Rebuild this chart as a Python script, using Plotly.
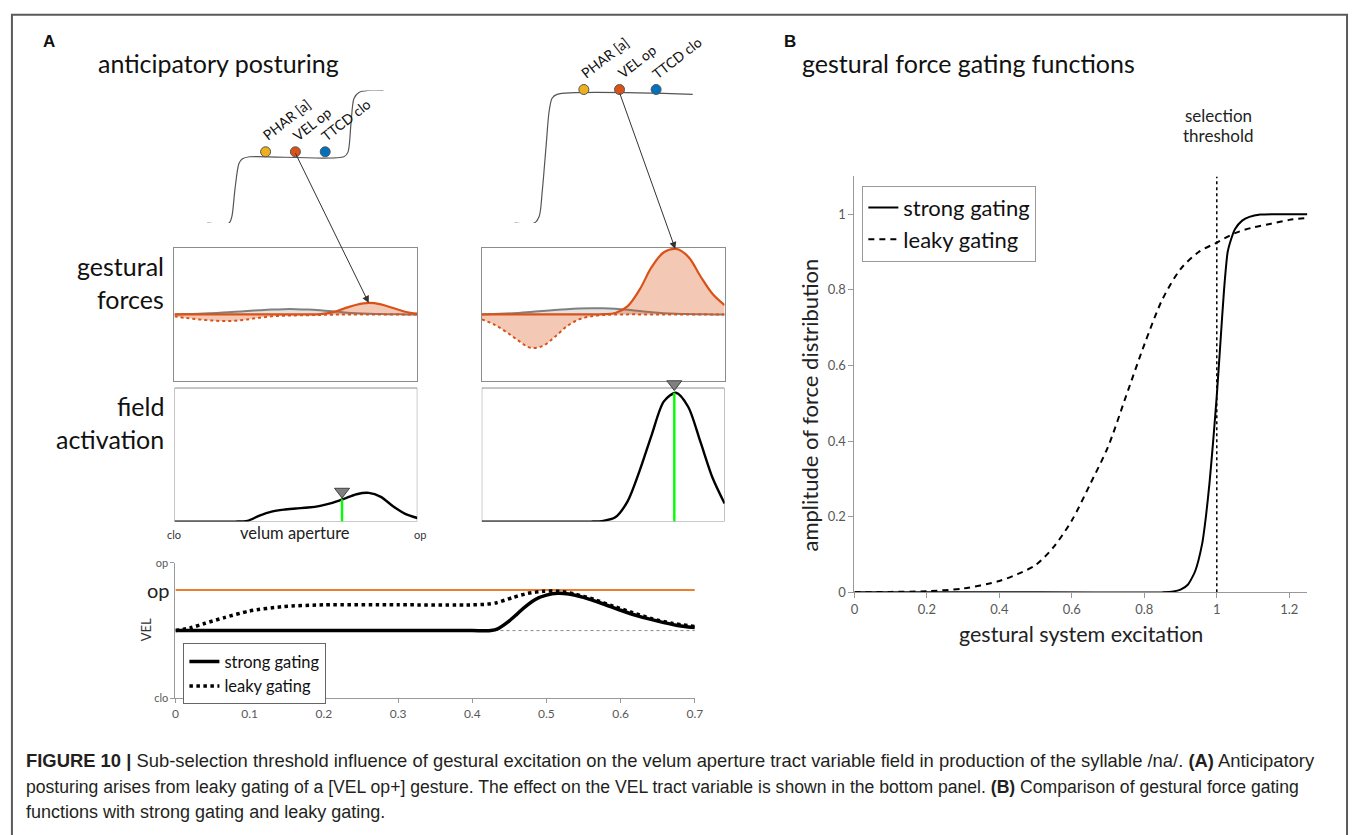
import plotly.graph_objects as go

W, H = 1358, 835
def fx(x): return x / W
def fy(y): return 1 - y / H

CAL = "Lato"
CAP = "Liberation Sans"

# ---------------- data ----------------
gesture_names = ["PHAR [a]", "VEL op", "TTCD clo"]
gesture_colors = ["#EDB120", "#D95319", "#0072BD"]

# schematic excitation steps (left: anticipatory, right: selected)
schem_left_t = [0, 0.124, 0.14, 0.157, 0.18, 0.2, 0.24, 0.775, 0.798, 0.815, 0.832, 0.86, 0.91, 1.0]
schem_left_level = [0, 0, 0.1, 0.5, 0.9, 0.97, 1, 1, 1.07, 1.5, 1.88, 1.97, 2, 2]
schem_left_dot_t = [0.331, 0.5, 0.669]
schem_left_dot_level = [1.075, 1.075, 1.075]

schem_right_t = [0, 0.111, 0.139, 0.156, 0.178, 0.194, 0.211, 0.239, 1.0]
schem_right_level = [0, 0, 0.107, 0.5, 1.22, 1.73, 1.94, 2, 2]
schem_right_dot_t = [0.389, 0.589, 0.794]
schem_right_dot_level = [2.076, 2.076, 2.076]

# field position (clo -> op)
field_x = [0, 0.05, 0.1, 0.15, 0.2, 0.25, 0.3, 0.35, 0.4, 0.45, 0.5,
           0.55, 0.6, 0.65, 0.7, 0.75, 0.8, 0.85, 0.9, 0.95, 1.0]

# gestural forces, left (anticipatory)
gf_left_gray = [0, 0.005, 0.01, 0.018, 0.027, 0.038, 0.05, 0.062, 0.072, 0.078, 0.078,
                0.072, 0.06, 0.045, 0.03, 0.018, 0.01, 0.005, 0.002, 0.0, 0.0]
gf_left_orange = [0, 0, 0, 0, 0, 0, 0, 0, 0, 0, 0,
                  0, 0.003, 0.03, 0.09, 0.145, 0.172, 0.15, 0.095, 0.04, 0.012]
gf_left_dotted = [-0.03, -0.055, -0.075, -0.09, -0.1, -0.095, -0.075, -0.05, -0.03, -0.02, -0.015,
                  -0.012, -0.008, -0.004, -0.001, 0, 0, 0, 0, 0, 0]

# gestural forces, right (selected)
gf_right_gray = [0, 0.005, 0.012, 0.022, 0.035, 0.05, 0.065, 0.078, 0.088, 0.093, 0.092,
                 0.085, 0.07, 0.05, 0.032, 0.018, 0.009, 0.004, 0.002, 0.0, 0.0]
gf_right_orange = [0, 0, 0, 0, 0, 0, 0, 0, 0, 0, 0.003,
                   0.02, 0.12, 0.37, 0.71, 0.93, 0.98, 0.865, 0.575, 0.31, 0.14]
gf_right_dotted = [-0.074, -0.15, -0.26, -0.39, -0.5, -0.475, -0.34, -0.18, -0.075, -0.03, -0.01,
                   -0.003, 0, 0, 0, 0, 0, 0, 0, 0, 0]

# field activation
fa_left = [0, 0, 0, 0, 0, 0, 0.005, 0.045, 0.075, 0.09, 0.098,
           0.105, 0.118, 0.14, 0.172, 0.205, 0.215, 0.185, 0.115, 0.058, 0.027]
fa_right = [0, 0, 0, 0, 0, 0, 0, 0, 0, 0, 0.005,
            0.032, 0.15, 0.38, 0.65, 0.9, 0.965, 0.86, 0.6, 0.33, 0.135]
fa_left_sel = (0.69, 0.167)     # selected position, activation there
fa_right_sel = (0.793, 0.965)
fa_left_pointer = 0.225          # pointer (triangle) height above curve
fa_right_pointer = 1.03

# VEL tract variable over time
vel_strong_t = [0, 0.1, 0.2, 0.3, 0.4, 0.425, 0.435, 0.45, 0.46, 0.47, 0.485, 0.5, 0.515,
                0.53, 0.55, 0.575, 0.6, 0.625, 0.65, 0.675, 0.7]
vel_strong = [0.5, 0.5, 0.5, 0.5, 0.5, 0.5, 0.515, 0.572, 0.62, 0.67, 0.73, 0.762, 0.775,
              0.77, 0.745, 0.70, 0.65, 0.605, 0.57, 0.54, 0.522]
vel_leaky_t = [0, 0.02, 0.04, 0.066, 0.1, 0.145, 0.2, 0.3, 0.4, 0.42, 0.433, 0.454, 0.475,
               0.496, 0.517, 0.538, 0.564, 0.59, 0.616, 0.642, 0.669, 0.7]
vel_leaky = [0.5, 0.52, 0.554, 0.596, 0.645, 0.677, 0.69, 0.69, 0.69, 0.695, 0.706, 0.743, 0.775,
             0.79, 0.79, 0.77, 0.73, 0.68, 0.633, 0.588, 0.554, 0.53]
vel_target = 0.8
vel_neutral = 0.5
vel_neutral_t = [0.43, 0.7]
vel_time_ticks = [0, 0.1, 0.2, 0.3, 0.4, 0.5, 0.6, 0.7]

# gating functions (panel B)
gate_leaky_x = [0, 0.1, 0.2, 0.3, 0.4, 0.45, 0.5, 0.55, 0.6, 0.65, 0.7, 0.75, 0.8, 0.85,
                0.9, 0.95, 1.0, 1.05, 1.1, 1.15, 1.2, 1.25]
gate_leaky = [0, 0.001, 0.003, 0.01, 0.03, 0.048, 0.072, 0.12, 0.19, 0.285, 0.385, 0.52, 0.655, 0.775,
              0.855, 0.9, 0.925, 0.95, 0.965, 0.975, 0.985, 0.99]
gate_strong_x = [0, 0.5, 0.85, 0.88, 0.9, 0.92, 0.94, 0.96, 0.97, 0.98, 0.99, 1.0, 1.01, 1.02,
                 1.03, 1.04, 1.05, 1.07, 1.09, 1.12, 1.25]
gate_strong = [0, 0, 0, 0.002, 0.007, 0.02, 0.055, 0.13, 0.2, 0.29, 0.4, 0.52, 0.66, 0.8,
               0.9, 0.935, 0.96, 0.983, 0.993, 0.999, 1.0]
threshold = 1.0
gate_xticks = [0, 0.2, 0.4, 0.6, 0.8, 1.0, 1.2]
gate_yticks = [0, 0.2, 0.4, 0.6, 0.8, 1.0]

ORANGE = "#D95319"
ORANGE_FILL = "rgba(217,83,25,0.32)"
GRAY_FILL = "rgba(190,190,190,0.45)"

fig = go.Figure()

# ---- schematics ----
fig.add_trace(go.Scatter(x=schem_left_t, y=schem_left_level, mode="lines",
                         line=dict(color="#555", width=1.2, shape="spline", smoothing=0.8),
                         xaxis="x", yaxis="y", showlegend=False))
fig.add_trace(go.Scatter(x=schem_left_dot_t, y=schem_left_dot_level, mode="markers",
                         marker=dict(size=10, color=gesture_colors, line=dict(color="#555", width=1)),
                         xaxis="x", yaxis="y", showlegend=False, cliponaxis=False))
fig.add_trace(go.Scatter(x=schem_right_t, y=schem_right_level, mode="lines",
                         line=dict(color="#555", width=1.2, shape="spline", smoothing=0.8),
                         xaxis="x2", yaxis="y2", showlegend=False))
fig.add_trace(go.Scatter(x=schem_right_dot_t, y=schem_right_dot_level, mode="markers",
                         marker=dict(size=10, color=gesture_colors, line=dict(color="#555", width=1)),
                         xaxis="x2", yaxis="y2", showlegend=False, cliponaxis=False))

# ---- gestural forces ----
for ax, gray, orange, dotted in [("3", gf_left_gray, gf_left_orange, gf_left_dotted),
                                 ("4", gf_right_gray, gf_right_orange, gf_right_dotted)]:
    fig.add_trace(go.Scatter(x=field_x, y=gray, mode="lines", fill="tozeroy", fillcolor=GRAY_FILL,
                             line=dict(color="#808080", width=2, shape="spline"),
                             xaxis="x" + ax, yaxis="y" + ax, showlegend=False))
    fig.add_trace(go.Scatter(x=field_x, y=dotted, mode="lines", fill="tozeroy", fillcolor=ORANGE_FILL,
                             line=dict(color=ORANGE, width=2, dash="dot", shape="spline"),
                             xaxis="x" + ax, yaxis="y" + ax, showlegend=False))
    fig.add_trace(go.Scatter(x=field_x, y=orange, mode="lines", fill="tozeroy", fillcolor=ORANGE_FILL,
                             line=dict(color=ORANGE, width=2.2, shape="spline"),
                             xaxis="x" + ax, yaxis="y" + ax, showlegend=False))

# ---- field activation ----
for ax, act, sel, ptr in [("5", fa_left, fa_left_sel, fa_left_pointer),
                          ("6", fa_right, fa_right_sel, fa_right_pointer)]:
    fig.add_trace(go.Scatter(x=field_x, y=act, mode="lines",
                             line=dict(color="black", width=2.4, shape="spline", smoothing=0.8),
                             xaxis="x" + ax, yaxis="y" + ax, showlegend=False))
    fig.add_trace(go.Scatter(x=[sel[0], sel[0]], y=[0, sel[1]], mode="lines",
                             line=dict(color="#00FF00", width=2.4),
                             xaxis="x" + ax, yaxis="y" + ax, showlegend=False))
    fig.add_trace(go.Scatter(x=[sel[0]], y=[ptr], mode="markers",
                             marker=dict(symbol="triangle-down", size=13, color="#808080",
                                         line=dict(color="#404040", width=1)),
                             xaxis="x" + ax, yaxis="y" + ax, showlegend=False, cliponaxis=False))

# ---- VEL panel ----
fig.add_trace(go.Scatter(x=[0, 0.7], y=[vel_target, vel_target], mode="lines",
                         line=dict(color="#ED7D31", width=2), xaxis="x7", yaxis="y7", showlegend=False))
fig.add_trace(go.Scatter(x=vel_neutral_t, y=[vel_neutral, vel_neutral], mode="lines",
                         line=dict(color="#888", width=1, dash="dot"), xaxis="x7", yaxis="y7",
                         showlegend=False))
fig.add_trace(go.Scatter(x=vel_leaky_t, y=vel_leaky, mode="lines", name="leaky gating",
                         line=dict(color="black", width=3.5, dash="dot", shape="spline", smoothing=0.7),
                         xaxis="x7", yaxis="y7", legend="legend2", legendrank=2))
fig.add_trace(go.Scatter(x=vel_strong_t, y=vel_strong, mode="lines", name="strong gating",
                         line=dict(color="black", width=3.5, shape="spline", smoothing=0.7),
                         xaxis="x7", yaxis="y7", legend="legend2", legendrank=1))

# ---- panel B ----
fig.add_trace(go.Scatter(x=[threshold, threshold], y=[0, 1.1], mode="lines",
                         line=dict(color="black", width=1.5, dash="dot"),
                         xaxis="x8", yaxis="y8", showlegend=False))
fig.add_trace(go.Scatter(x=gate_strong_x, y=gate_strong, mode="lines", name="strong gating",
                         line=dict(color="black", width=2, shape="spline", smoothing=0.6),
                         xaxis="x8", yaxis="y8", legend="legend", legendrank=1))
fig.add_trace(go.Scatter(x=gate_leaky_x, y=gate_leaky, mode="lines", name="leaky gating",
                         line=dict(color="black", width=2, dash="6px,5px", shape="spline", smoothing=0.8),
                         xaxis="x8", yaxis="y8", legend="legend", legendrank=2))

# ---------------- axes ----------------
def hidden(dom, rng, anchor):
    return dict(domain=dom, range=rng, visible=False, fixedrange=True, anchor=anchor)

def boxed(dom, rng, anchor):
    return dict(domain=dom, range=rng, anchor=anchor, showline=True, mirror=True,
                linecolor="#8c8c8c", linewidth=1, showticklabels=False, ticks="",
                showgrid=False, zeroline=False)

def bare(dom, rng, anchor):
    return dict(domain=dom, range=rng, anchor=anchor, showline=False, showticklabels=False,
                ticks="", showgrid=False, zeroline=False)

FA_TOP = 1.13  # extra head-room for the pointer triangle
lay = {}
lay["xaxis"] = hidden([fx(205), fx(383)], [0, 1], "y")
lay["yaxis"] = hidden([fy(220), fy(85)], [0, 2], "x")
lay["xaxis2"] = hidden([fx(515), fx(695)], [0, 1], "y2")
lay["yaxis2"] = hidden([fy(220), fy(220 - 2.3 * 65.5)], [0, 2.3], "x2")

lay["xaxis3"] = boxed([fx(172), fx(417)], [0, 1], "y3")
lay["yaxis3"] = boxed([fy(381), fy(245)], [-1, 1], "x3")
lay["xaxis4"] = boxed([fx(482), fx(727)], [0, 1], "y4")
lay["yaxis4"] = boxed([fy(381), fy(245)], [-1, 1], "x4")
lay["xaxis5"] = bare([fx(172), fx(417)], [0, 1], "y5")
lay["yaxis5"] = bare([fy(524), fy(524 - FA_TOP * 136)], [0, FA_TOP], "x5")
lay["xaxis6"] = bare([fx(482), fx(727)], [0, 1], "y6")
lay["yaxis6"] = bare([fy(524), fy(524 - FA_TOP * 136)], [0, FA_TOP], "x6")

tickfont_small = dict(family=CAL, size=11, color="#595959")
lay["xaxis7"] = dict(domain=[fx(173), fx(697)], range=[0, 0.7], anchor="y7",
                     tickvals=vel_time_ticks, ticktext=[("%g" % v) for v in vel_time_ticks],
                     tickfont=dict(family=CAL, size=12, color="#595959"),
                     showline=True, linecolor="#999", ticks="outside", ticklen=4, tickcolor="#999",
                     showgrid=False, zeroline=False)
lay["yaxis7"] = dict(domain=[fy(704), fy(566)], range=[0, 1], anchor="x7",
                     tickvals=[0, 1], ticktext=["clo", "op"], tickfont=tickfont_small,
                     showline=True, linecolor="#999", ticks="outside", ticklen=4, tickcolor="#999",
                     showgrid=False, zeroline=False)

lay["xaxis8"] = dict(domain=[fx(858), fx(1315)], range=[0, 1.25], anchor="y8",
                     tickvals=gate_xticks, ticktext=[("%g" % v) for v in gate_xticks],
                     tickfont=dict(family=CAL, size=13, color="#595959"),
                     showline=True, linecolor="#999", ticks="outside", ticklen=5, tickcolor="#999",
                     showgrid=False, zeroline=False)
lay["yaxis8"] = dict(domain=[fy(596), fy(172.5)], range=[0, 1.1], anchor="x8",
                     tickvals=gate_yticks, ticktext=[("%g" % v) for v in gate_yticks],
                     tickfont=dict(family=CAL, size=13, color="#595959"),
                     showline=True, linecolor="#999", ticks="outside", ticklen=5, tickcolor="#999",
                     showgrid=False, zeroline=False)

# ---------------- annotations ----------------
ann = []
def txt(x, y, s, size, family=CAL, color="#111", xanchor="center", angle=0, **kw):
    ann.append(dict(x=fx(x), y=fy(y), xref="paper", yref="paper", text=s, showarrow=False,
                    font=dict(family=family, size=size, color=color), xanchor=xanchor,
                    yanchor="middle", textangle=angle, **kw))

txt(45, 35, "<b>A</b>", 17, family=CAP, color="#111")
txt(93, 57, "anticipatory posturing", 25, xanchor="left")
txt(793, 35, "<b>B</b>", 17, family=CAP, color="#111")
txt(803, 57, "gestural force gating functions", 25, xanchor="left")

txt(163, 264, "gestural", 25, xanchor="right")
txt(163, 297, "forces", 25, xanchor="right")
txt(163, 406, "field", 25, xanchor="right")
txt(163, 440, "activation", 25, xanchor="right")

txt(172, 537, "clo", 11, color="#333")
txt(294, 536, "velum aperture", 16.5, color="#222")
txt(420, 537, "op", 11, color="#333")

txt(143, 634, "VEL", 13, color="#333", angle=-90)
txt(170, 594, "op", 20, color="#222", xanchor="right")

txt(1225, 110, "selection", 17, color="#222")
txt(1225, 131, "threshold", 17, color="#222")
txt(813, 405, "amplitude of force distribution", 22, color="#222", angle=-90)
txt(1087, 638, "gestural system excitation", 21.5, color="#222")

# rotated gesture labels on schematics
for xa, ya, ts, ls in [("x", "y", schem_left_dot_t, schem_left_dot_level),
                       ("x2", "y2", schem_right_dot_t, schem_right_dot_level)]:
    for name, t, l in zip(gesture_names, ts, ls):
        ann.append(dict(x=t, y=l, xref=xa, yref=ya, text=name, showarrow=False,
                        font=dict(family=CAL, size=14, color="#111"), textangle=-38,
                        xanchor="center", yanchor="middle",
                        xshift=21 if name != "VEL op" else 17, yshift=32 if name != "VEL op" else 28))

# arrows from VEL op dot to force peaks
ann.append(dict(x=0.8, y=0.172, xref="x3", yref="y3", ax=-74, ay=-151, axref="pixel", ayref="pixel",
                text="", showarrow=True, arrowhead=2, arrowsize=1.4, arrowwidth=1,
                arrowcolor="#333", standoff=0, startstandoff=0))
ann.append(dict(x=0.797, y=0.98, xref="x4", yref="y4", ax=-56, ay=-157, axref="pixel", ayref="pixel",
                text="", showarrow=True, arrowhead=2, arrowsize=1.4, arrowwidth=1,
                arrowcolor="#333", standoff=0, startstandoff=0))

# caption
cap_col = "#231f20"
txt(20, 767, "<b>FIGURE 10 |</b> Sub-selection threshold influence of gestural excitation on the velum "
    "aperture tract variable field in production of the syllable /na/. <b>(A)</b> Anticipatory",
    18.4, family=CAP, color=cap_col, xanchor="left")
txt(20, 794, "posturing arises from leaky gating of a [VEL op+] gesture. The effect on the VEL tract "
    "variable is shown in the bottom panel. <b>(B)</b> Comparison of gestural force gating",
    17.6, family=CAP, color=cap_col, xanchor="left")
txt(20, 820, "functions with strong gating and leaky gating.", 18, family=CAP, color=cap_col,
    xanchor="left")

shapes = [dict(type="rect", xref="paper", yref="paper", x0=fx(8), x1=fx(1355), y0=fy(845), y1=fy(8),
               line=dict(color="#5a5a5a", width=2), fillcolor="rgba(0,0,0,0)", layer="below")]
# frames of the field-activation panels
for ax in ["5", "6"]:
    shapes.append(dict(type="rect", xref="x" + ax, yref="y" + ax, x0=0, x1=1, y0=0, y1=1,
                       line=dict(color="#8c8c8c", width=1), fillcolor="rgba(0,0,0,0)", layer="below"))

fig.update_layout(
    width=W, height=H, margin=dict(l=0, r=0, t=0, b=0),
    paper_bgcolor="white", plot_bgcolor="rgba(0,0,0,0)",
    font=dict(family=CAL, color="#222"),
    annotations=ann, shapes=shapes,
    legend=dict(x=fx(866), y=fy(182), xanchor="left", yanchor="top",
                bordercolor="#999", borderwidth=1, bgcolor="white",
                font=dict(family=CAL, size=22, color="#111"), tracegroupgap=0,
                itemwidth=30),
    legend2=dict(x=fx(181), y=fy(648), xanchor="left", yanchor="top",
                 bordercolor="#666", borderwidth=1, bgcolor="white",
                 font=dict(family=CAL, size=16.5, color="#111"), tracegroupgap=0,
                 itemwidth=30),
    **lay,
)

fig.write_html("out.html")
